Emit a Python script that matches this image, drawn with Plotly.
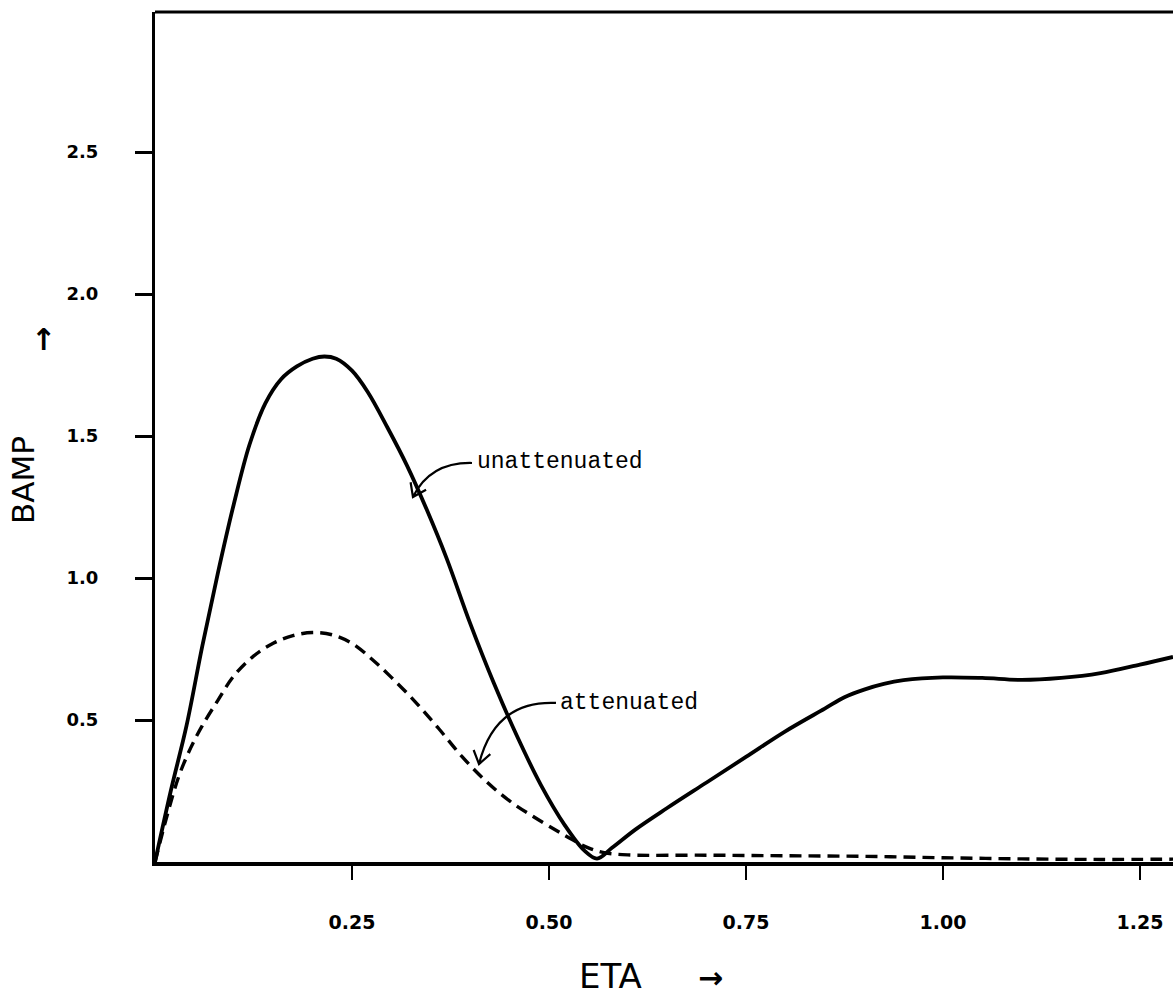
import math
import plotly.graph_objects as go

# BAMP against ETA, unattenuated (solid) and attenuated (dashed) response
eta_unatt = [0.0, 0.02, 0.04, 0.06, 0.08, 0.10, 0.12, 0.14, 0.16, 0.18,
             0.20, 0.215, 0.23, 0.25, 0.27, 0.295, 0.32, 0.345, 0.37, 0.40,
             0.43, 0.46, 0.49, 0.52, 0.545, 0.561, 0.58, 0.61, 0.65, 0.70,
             0.75, 0.80, 0.85, 0.875, 0.90, 0.925, 0.95, 1.00, 1.05, 1.10,
             1.15, 1.20, 1.25, 1.292]
bamp_unatt = [0.0, 0.25, 0.48, 0.76, 1.02, 1.26, 1.47, 1.615, 1.70, 1.745,
              1.772, 1.78, 1.772, 1.73, 1.655, 1.53, 1.395, 1.24, 1.07, 0.84,
              0.63, 0.44, 0.27, 0.13, 0.04, 0.012, 0.05, 0.115, 0.19, 0.28,
              0.37, 0.46, 0.54, 0.58, 0.607, 0.627, 0.64, 0.65, 0.648, 0.641,
              0.648, 0.665, 0.695, 0.722]

eta_att = [0.0, 0.015, 0.03, 0.045, 0.06, 0.08, 0.10, 0.125, 0.15, 0.175,
           0.20, 0.225, 0.25, 0.275, 0.30, 0.33, 0.36, 0.39, 0.42, 0.45,
           0.48, 0.51, 0.53, 0.55, 0.57, 0.60, 0.70, 0.80, 0.90, 1.00,
           1.10, 1.20, 1.292]
bamp_att = [0.0, 0.16, 0.30, 0.40, 0.48, 0.57, 0.655, 0.725, 0.77, 0.797,
            0.808, 0.80, 0.77, 0.715, 0.65, 0.565, 0.47, 0.37, 0.285, 0.215,
            0.16, 0.11, 0.078, 0.05, 0.033, 0.025, 0.024, 0.022, 0.020, 0.015,
            0.011, 0.009, 0.010]

x_tick_vals = [0.25, 0.50, 0.75, 1.00, 1.25]
x_tick_text = ["0.25", "0.50", "0.75", "1.00", "1.25"]
y_tick_vals = [0.5, 1.0, 1.5, 2.0, 2.5]
y_tick_text = ["0.5", "1.0", "1.5", "2.0", "2.5"]

# curve labels: text, text anchor (data), arrow tail / bend / tip (data)
label_text = ["unattenuated", "attenuated"]
label_x = [0.406, 0.5114]
label_y = [1.408, 0.560]
arrow_tail = [(0.4023, 1.405), (0.5089, 0.560)]
arrow_bend = [(0.3490, 1.408), (0.4315, 0.570)]
arrow_tip = [(0.3274, 1.285), (0.4112, 0.345)]

X_RANGE = [0.0, 1.292]
Y_RANGE = [0.0, 2.993]
W, H = 1173, 999
M_L, M_R, M_T, M_B = 155, 0, 12, 137
plot_w = W - M_L - M_R
plot_h = H - M_T - M_B
sx = plot_w / (X_RANGE[1] - X_RANGE[0])   # px per data unit, x
sy = plot_h / (Y_RANGE[1] - Y_RANGE[0])   # px per data unit, y

fig = go.Figure()
fig.add_trace(go.Scatter(
    x=eta_unatt, y=bamp_unatt, mode="lines",
    line=dict(color="black", width=3.8, shape="spline", smoothing=1.0),
    showlegend=False, hoverinfo="skip"))
fig.add_trace(go.Scatter(
    x=eta_att, y=bamp_att, mode="lines",
    line=dict(color="black", width=3.4, dash="12px,7px", shape="spline", smoothing=1.0),
    showlegend=False, hoverinfo="skip"))


def curved_arrow(tail, bend, tip, head_len=15.0, spread=35.0):
    path = f"M {tail[0]},{tail[1]} Q {bend[0]},{bend[1]} {tip[0]},{tip[1]}"
    dx = (tip[0] - bend[0]) * sx
    dy = (tip[1] - bend[1]) * sy
    back = math.atan2(-dy, -dx)
    barbs = []
    for s in (spread, -spread):
        a = back + math.radians(s)
        barbs.append((tip[0] + math.cos(a) * head_len / sx,
                      tip[1] + math.sin(a) * head_len / sy))
    path += (f" M {barbs[0][0]},{barbs[0][1]} L {tip[0]},{tip[1]}"
             f" L {barbs[1][0]},{barbs[1][1]}")
    return path


shapes = [
    # top border of the frame
    dict(type="line", xref="paper", yref="paper", x0=0, x1=1, y0=1, y1=1,
         line=dict(color="black", width=3)),
]
for t, b, p in zip(arrow_tail, arrow_bend, arrow_tip):
    shapes.append(dict(type="path", xref="x", yref="y", path=curved_arrow(t, b, p),
                       line=dict(color="black", width=2.2)))

annotations = []
for txt, lx, ly in zip(label_text, label_x, label_y):
    annotations.append(dict(
        x=lx, y=ly, xref="x", yref="y", text=txt, showarrow=False,
        xanchor="left", yanchor="middle",
        font=dict(family="Liberation Mono, Courier New, monospace", size=23, color="black")))


def px_to_paper(px, py):
    return (px - M_L) / plot_w, (M_T + plot_h - py) / plot_h


# axis titles
bx, by = px_to_paper(23, 480)
ux, uy = px_to_paper(43, 339)
ex, ey = px_to_paper(610, 976)
rx, ry = px_to_paper(710, 977)
annotations += [
    dict(x=bx, y=by, xref="paper", yref="paper",
         text="BAMP", textangle=-90, showarrow=False, xanchor="center", yanchor="middle",
         font=dict(family="DejaVu Sans", size=31, color="black")),
    dict(x=ux, y=uy, xref="paper", yref="paper",
         text="↑", showarrow=False, xanchor="center", yanchor="middle",
         font=dict(family="DejaVu Sans", size=30, color="black", weight="bold")),
    dict(x=ex, y=ey, xref="paper", yref="paper",
         text="ETA", showarrow=False, xanchor="center", yanchor="middle",
         font=dict(family="DejaVu Sans", size=34, color="black")),
    dict(x=rx, y=ry, xref="paper", yref="paper",
         text="→", showarrow=False, xanchor="center", yanchor="middle",
         font=dict(family="DejaVu Sans", size=30, color="black", weight="bold")),
]

fig.update_layout(
    width=W, height=H, autosize=False,
    margin=dict(l=M_L, r=M_R, t=M_T, b=M_B, pad=0),
    paper_bgcolor="white", plot_bgcolor="white",
    shapes=shapes, annotations=annotations,
    xaxis=dict(range=X_RANGE, showgrid=False, zeroline=False,
               showline=True, linecolor="black", linewidth=4,
               ticks="outside", ticklen=14, tickwidth=2, tickcolor="black",
               tickvals=x_tick_vals, ticktext=x_tick_text, ticklabelstandoff=26,
               tickfont=dict(family="DejaVu Sans", size=19, color="black", weight="bold")),
    yaxis=dict(range=Y_RANGE, showgrid=False, zeroline=False,
               showline=True, linecolor="black", linewidth=3,
               ticks="outside", ticklen=17, tickwidth=3, tickcolor="black",
               tickvals=y_tick_vals, ticktext=y_tick_text, ticklabelstandoff=33,
               tickfont=dict(family="DejaVu Sans", size=18, color="black", weight="bold")),
)

fig.write_html("out.html")
